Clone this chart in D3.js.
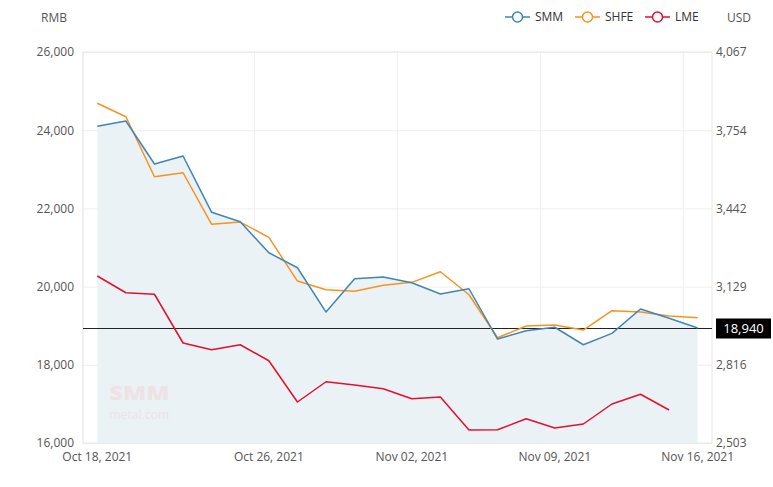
<!DOCTYPE html>
<html>
<head>
<meta charset="utf-8">
<script src="https://cdn.jsdelivr.net/npm/d3@7"></script>
<style>
    body { margin: 0; background: #fff; }
    #chart { width: 773px; height: 487px; }
    text { font-family: "Open Sans", "Noto Sans", sans-serif; }
</style>
</head>
<body>
<div id="chart"></div>
<script>

// trading days, Oct 18 - Nov 16 2021
let dates = ["2021-10-18", "2021-10-19", "2021-10-20", "2021-10-21", "2021-10-22",
    "2021-10-25", "2021-10-26", "2021-10-27", "2021-10-28", "2021-10-29",
    "2021-11-01", "2021-11-02", "2021-11-03", "2021-11-04", "2021-11-05",
    "2021-11-08", "2021-11-09", "2021-11-10", "2021-11-11", "2021-11-12",
    "2021-11-15", "2021-11-16"];

// RMB
let smm = [24100, 24235, 23135, 23340, 21900, 21660, 20866, 20482, 19349, 20201,
    20244, 20099, 19810, 19945, 18659, 18871, 18960, 18513, 18804, 19426, 19190, 18940];
let shfe = [24688, 24345, 22810, 22912, 21593, 21650, 21260, 20142, 19920, 19879,
    20032, 20109, 20380, 19792, 18692, 18991, 19017, 18889, 19383, 19349, 19247, 19203];
// USD (no value for the last day)
let lme = [3171, 3104, 3098, 2903, 2876, 2896, 2832, 2667, 2748, 2735,
    2720, 2680, 2687, 2555, 2556, 2600, 2563, 2579, 2659, 2698, 2635, null];

let leftTicks = [16000, 18000, 20000, 22000, 24000, 26000];
let rightTicks = [2503, 2816, 3129, 3442, 3754, 4067];
let xTickDates = ["2021-10-18", "2021-10-26", "2021-11-02", "2021-11-09", "2021-11-16"];

let seriesNames = ["SMM", "SHFE", "LME"];
let seriesColors = ["#3f86b5", "#f7931e", "#e60f2d"];
let latest = 18940;


class PriceChart {

    constructor(parentElement) {
        this.parentElement = parentElement;
        this.parseDate = d3.timeParse("%Y-%m-%d");
        this.formatDate = d3.timeFormat("%b %d, %Y");

        this.initVis();
    }

    initVis() {
        let vis = this;

        vis.margin = {top: 52, right: 61, bottom: 44, left: 83};
        vis.width = 773 - vis.margin.left - vis.margin.right;
        vis.height = 487 - vis.margin.top - vis.margin.bottom;

        vis.svg = d3.select("#" + vis.parentElement).append("svg")
            .attr("width", 773)
            .attr("height", 487)
            .append("g")
            .attr("transform", "translate(" + vis.margin.left + "," + vis.margin.top + ")");

        // scales
        vis.x = d3.scaleBand().domain(dates).range([0, vis.width]).padding(0);
        vis.y = d3.scaleLinear().domain([16000, 26000]).range([vis.height, 0]);
        vis.yR = d3.scaleLinear().domain([2503, 4067]).range([vis.height, 0]);

        vis.wrangleData();
    }

    wrangleData() {
        let vis = this;

        vis.rows = dates.map((d, i) => ({
            key: d,
            smm: smm[i],
            shfe: shfe[i],
            lme: lme[i]
        }));

        vis.updateVis();
    }

    updateVis() {
        let vis = this;
        let cx = d => vis.x(d.key) + vis.x.bandwidth() / 2;

        // horizontal grid
        vis.svg.append("g")
            .attr("class", "grid")
            .call(d3.axisLeft(vis.y).tickValues(leftTicks).tickSize(-vis.width).tickFormat(""))
            .call(g => g.select(".domain").remove())
            .selectAll("line").attr("stroke", "#efefef");

        // vertical grid, on the left edge of each labelled band
        vis.svg.append("g")
            .selectAll("line")
            .data(xTickDates)
            .join("line")
            .attr("x1", d => vis.x(d)).attr("x2", d => vis.x(d))
            .attr("y1", 0).attr("y2", vis.height)
            .attr("stroke", "#efefef");

        // frame
        vis.svg.append("rect")
            .attr("width", vis.width)
            .attr("height", vis.height)
            .attr("fill", "none")
            .attr("stroke", "#e8e8e8");

        // SMM area
        let area = d3.area()
            .x(cx)
            .y0(vis.height)
            .y1(d => vis.y(d.smm));

        vis.svg.append("path")
            .datum(vis.rows)
            .attr("d", area)
            .attr("fill", "#ebf2f6");

        // watermark
        let wm = vis.svg.append("g")
            .attr("transform", "translate(" + (cx(vis.rows[0]) + 12) + "," + (vis.height - 43) + ")")
            .attr("fill", "#eedde1")
            .attr("opacity", 0.75);
        wm.append("text")
            .text("SMM")
            .attr("font-size", 19)
            .attr("font-weight", 900)
            .attr("textLength", 60)
            .attr("lengthAdjust", "spacingAndGlyphs");
        wm.append("text")
            .text("metal.com")
            .attr("y", 19)
            .attr("font-size", 13)
            .attr("textLength", 60)
            .attr("lengthAdjust", "spacingAndGlyphs");

        // latest price line
        let yLatest = Math.round(vis.y(latest)) + 0.5;
        vis.svg.append("line")
            .attr("x1", 0).attr("x2", vis.width)
            .attr("y1", yLatest).attr("y2", yLatest)
            .attr("stroke", "#222")
            .attr("stroke-width", 1)
            .attr("shape-rendering", "crispEdges");

        // lines
        let lineSmm = d3.line().x(cx).y(d => vis.y(d.smm));
        let lineShfe = d3.line().x(cx).y(d => vis.y(d.shfe));
        let lineLme = d3.line().defined(d => d.lme != null).x(cx).y(d => vis.yR(d.lme));

        [lineLme, lineShfe, lineSmm].forEach((ln, i) => {
            vis.svg.append("path")
                .datum(vis.rows)
                .attr("d", ln)
                .attr("fill", "none")
                .attr("stroke", seriesColors[2 - i])
                .attr("stroke-width", 1.5)
                .attr("stroke-linejoin", "round");
        });

        // axes
        let yAxis = vis.svg.append("g")
            .call(d3.axisLeft(vis.y).tickValues(leftTicks).tickSize(0).tickPadding(9).tickFormat(d3.format(",")));
        yAxis.select(".domain").remove();

        let yAxisR = vis.svg.append("g")
            .attr("transform", "translate(" + vis.width + ",0)")
            .call(d3.axisRight(vis.yR).tickValues(rightTicks).tickSize(0).tickPadding(4).tickFormat(d3.format(",")));
        yAxisR.select(".domain").remove();

        let xAxis = vis.svg.append("g")
            .attr("transform", "translate(0," + vis.height + ")")
            .call(d3.axisBottom(vis.x).tickValues(xTickDates).tickSize(0).tickPadding(9)
                .tickFormat(d => vis.formatDate(vis.parseDate(d))));
        xAxis.select(".domain").remove();

        [yAxis, yAxisR, xAxis].forEach(g => {
            g.selectAll("text")
                .attr("fill", "#555")
                .attr("font-size", 12)
                .attr("font-family", "'Open Sans', 'Noto Sans', sans-serif");
        });

        // latest price tag
        let tag = vis.svg.append("g")
            .attr("transform", "translate(" + (vis.width + 4) + "," + yLatest + ")");
        tag.append("rect")
            .attr("y", -10)
            .attr("width", 55)
            .attr("height", 20)
            .attr("fill", "#000");
        tag.append("text")
            .text(d3.format(",")(latest))
            .attr("x", 27.5)
            .attr("dy", "0.35em")
            .attr("text-anchor", "middle")
            .attr("fill", "#fff")
            .attr("font-size", 13);

        // unit labels
        vis.svg.append("text")
            .text("RMB")
            .attr("x", -29)
            .attr("y", -30)
            .attr("text-anchor", "middle")
            .attr("fill", "#555")
            .attr("font-size", 12);
        vis.svg.append("text")
            .text("USD")
            .attr("x", vis.width + 27)
            .attr("y", -30)
            .attr("text-anchor", "middle")
            .attr("fill", "#555")
            .attr("font-size", 12);

        // legend
        let legend = vis.svg.append("g")
            .attr("transform", "translate(422,-35)");
        let item = legend.selectAll("g")
            .data(seriesNames)
            .join("g")
            .attr("transform", (d, i) => "translate(" + (i * 70) + ",0)");
        item.append("line")
            .attr("x1", 0).attr("x2", 25)
            .attr("stroke", (d, i) => seriesColors[i])
            .attr("stroke-width", 1.5);
        item.append("circle")
            .attr("cx", 12.5)
            .attr("r", 5)
            .attr("fill", "#fff")
            .attr("stroke", (d, i) => seriesColors[i])
            .attr("stroke-width", 1.5);
        item.append("text")
            .text(d => d)
            .attr("x", 30)
            .attr("dy", "0.35em")
            .attr("fill", "#333")
            .attr("font-size", 12);
    }

}

new PriceChart("chart");

</script>
</body>
</html>
